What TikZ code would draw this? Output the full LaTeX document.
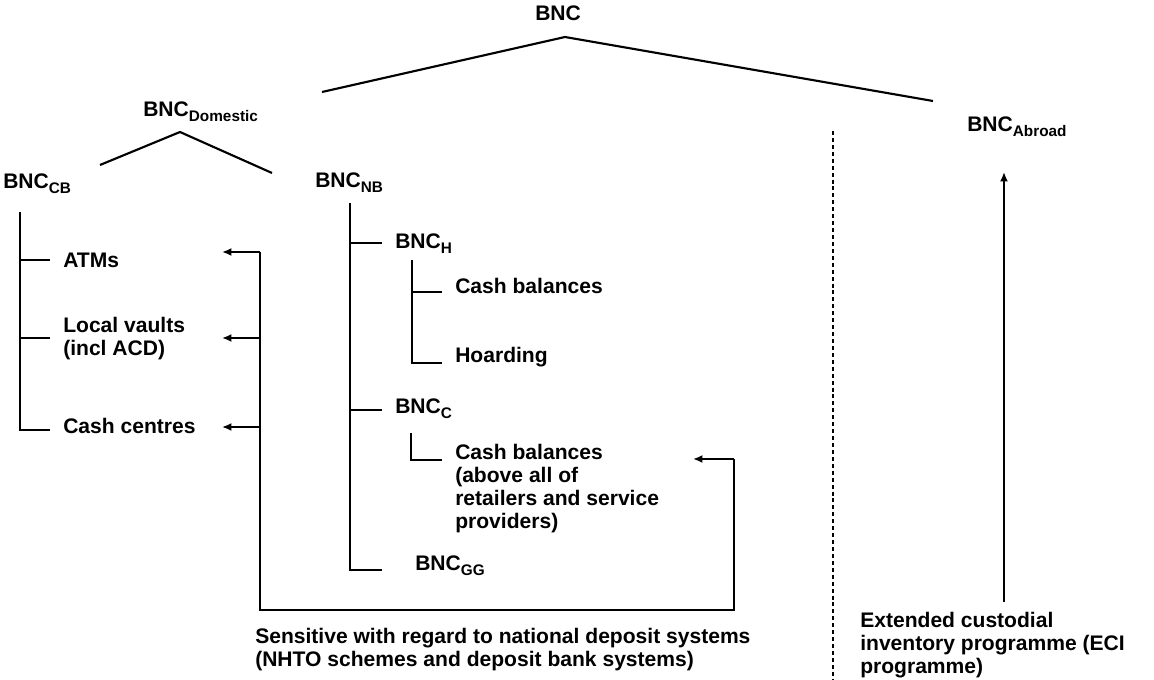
\documentclass[tikz,border=0pt]{standalone}
\usepackage{fontspec}
\setmainfont{Liberation Sans}
\usetikzlibrary{arrows.meta}
\newcommand\subs[1]{\raisebox{-3.5pt}{\fontsize{11.5pt}{12pt}\selectfont #1}}
\begin{document}
\begin{tikzpicture}[x=0.75pt,y=-0.75pt,
  font=\fontsize{15.8pt}{17.25pt}\selectfont\bfseries,
  lbl/.style={anchor=base west, inner sep=0pt, align=left},
  ln/.style={line width=1.6pt},
  thin ln/.style={line width=1.3pt},
  arr/.style={line width=1.6pt, -{Latex[length=7pt,width=6pt]}},
  dsh/.style={line width=1.5pt, dash pattern=on 3pt off 2.2pt}]
\useasboundingbox (0,0) rectangle (1154,680);
% labels (base = baseline of last line)
\node[lbl] (bnc) at (535,21) {BNC};
\node[lbl] (dom) at (143,117) {BNC\subs{Domestic}};
\node[lbl] (cb) at (3,189) {BNC\subs{CB}};
\node[lbl] (nb) at (315,188) {BNC\subs{NB}};
\node[lbl] (abroad) at (967,132) {BNC\subs{Abroad}};
\node[lbl] (atm) at (63,268) {ATMs};
\node[lbl] (vault) at (63,356) {Local vaults\\(incl ACD)};
\node[lbl] (centres) at (63,434) {Cash centres};
\node[lbl] (bh) at (395,249) {BNC\subs{H}};
\node[lbl] (cbh) at (455,294) {Cash balances};
\node[lbl] (hoard) at (455,363) {Hoarding};
\node[lbl] (bc) at (395,414) {BNC\subs{C}};
\node[lbl] (cbc) at (455,529) {Cash balances\\(above all of\\retailers and service\\providers)};
\node[lbl] (bgg) at (415,571) {BNC\subs{GG}};
\node[lbl] (sens) at (255,667) {Sensitive with regard to national deposit systems\\(NHTO schemes and deposit bank systems)};
\node[lbl] (eci) at (860,674) {Extended custodial\\inventory programme (ECI\\programme)};
% roofs
\coordinate (r1) at (322,92); \coordinate (r2) at (565,37); \coordinate (r3) at (933,101);
\draw[ln] (r1) -- (r2) -- (r3);
\coordinate (d1) at (100,165); \coordinate (d2) at (180,132); \coordinate (d3) at (272,173);
\draw[ln] (d1) -- (d2) -- (d3);
% CB tree
\coordinate (cbtop) at (20,212);
\draw[ln] (cbtop) |- (50,430);
\draw[thin ln] (20,260) -- (50,260);
\draw[thin ln] (20,338) -- (50,338);
% NB tree
\coordinate (nbtop) at (350,203);
\draw[ln] (nbtop) |- (382,570);
\draw[thin ln] (350,243) -- (382,243);
\draw[thin ln] (350,410) -- (382,410);
\draw[ln] (412,260) |- (442,363);
\draw[thin ln] (412,292) -- (442,292);
\draw[ln] (411,433) |- (442,460);
% bracket arrows
\coordinate (a1) at (260,252); \coordinate (a2) at (260,338); \coordinate (a3) at (260,427);
\coordinate (bl) at (260,610); \coordinate (br) at (734,610); \coordinate (a4) at (734,459);
\draw[ln] (a1) -- (bl) -- (br) -- (a4);
\draw[arr] (a1) -- (222,252);
\draw[arr] (a2) -- (222,338);
\draw[arr] (a3) -- (222,427);
\draw[arr] (a4) -- (693,459);
% dashed separator
\draw[dsh] (833,131) -- (833,680);
% ECI arrow
\coordinate (e1) at (1004,602);
\draw[arr] (e1) -- (1004,172);
\end{tikzpicture}
\end{document}
